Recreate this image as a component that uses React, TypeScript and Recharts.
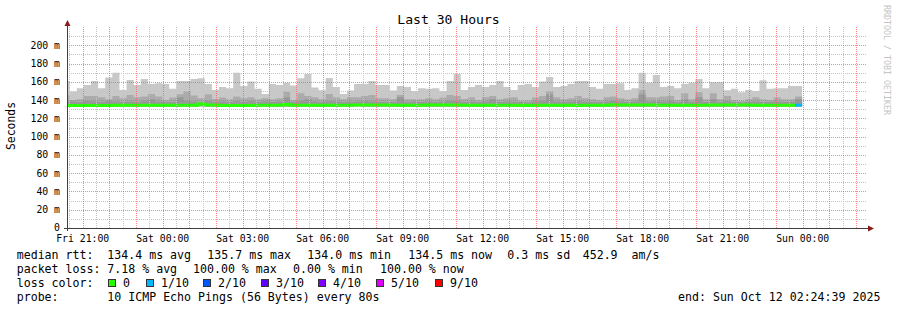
import { ComposedChart, Area, Line, XAxis, YAxis } from "recharts";

// one value per 16-minute RRD row, oldest first (row 0 is the clipped sliver at the left edge)
const maxRtt = [
  161.0, 149.3, 153.0, 156.6, 161.0, 153.0, 164.6, 169.8, 151.0, 162.0,
  156.6, 163.0, 157.7, 158.4, 157.7, 152.3, 161.0, 161.0, 163.0, 164.0,
  157.7, 151.0, 154.4, 153.0, 169.8, 155.5, 160.3, 152.3, 146.8, 157.7,
  156.6, 159.1, 155.9, 163.9, 168.6, 153.7, 150.8, 164.3, 154.4, 146.8,
  150.4, 157.7, 157.7, 161.0, 156.6, 156.6, 150.4, 155.5, 154.4, 150.0,
  153.0, 152.3, 153.0, 150.0, 161.0, 168.6, 151.0, 154.4, 156.6, 154.4,
  156.6, 161.0, 154.4, 151.0, 156.6, 157.7, 154.4, 160.3, 165.4, 154.4,
  155.5, 157.7, 161.0, 161.0, 154.4, 152.3, 157.7, 157.7, 158.4, 151.0,
  153.0, 169.8, 159.1, 167.5, 154.4, 155.5, 153.0, 157.7, 159.1, 163.0,
  153.0, 159.5, 159.5, 150.8, 152.3, 148.6, 151.0, 150.0, 161.7, 152.3,
  153.0, 153.0, 155.5, 155.5,
];

const midRtt = [
  145.7, 140.0, 140.8, 144.6, 144.6, 143.0, 140.8, 144.6, 142.0, 145.7,
  143.0, 143.8, 146.8, 143.8, 140.0, 142.7, 146.4, 150.0, 145.0, 142.0,
  146.4, 141.3, 142.7, 140.8, 143.8, 142.0, 143.0, 140.8, 142.0, 140.8,
  142.0, 149.3, 140.0, 147.5, 144.6, 143.0, 140.8, 146.8, 143.0, 140.8,
  143.0, 143.0, 144.6, 145.7, 142.0, 142.0, 140.8, 145.7, 140.8, 140.8,
  140.8, 142.0, 141.0, 142.7, 145.7, 144.6, 141.3, 143.0, 140.0, 143.0,
  144.6, 140.8, 142.0, 143.0, 139.5, 139.5, 142.7, 144.6, 150.0, 143.0,
  140.8, 142.0, 144.6, 142.0, 140.8, 140.0, 143.0, 143.8, 142.0, 140.8,
  142.0, 151.0, 143.0, 143.0, 143.8, 144.6, 140.0, 147.5, 140.8, 148.6,
  140.8, 147.5, 140.8, 144.6, 140.0, 139.0, 140.8, 143.0, 140.8, 140.0,
  142.7, 140.8, 140.8, 143.8,
];

const innerRtt = [
  139.0, 138.5, 138.0, 139.0, 138.5, 138.0, 139.0, 138.5, 138.0, 138.5,
  138.0, 139.0, 141.0, 138.5, 138.0, 138.0, 143.0, 139.0, 138.5, 138.0,
  139.0, 138.0, 138.5, 138.0, 139.0, 138.0, 139.0, 138.0, 138.5, 138.0,
  138.5, 143.0, 138.0, 139.0, 141.0, 138.5, 138.0, 139.0, 138.5, 138.0,
  138.0, 138.5, 139.0, 138.5, 138.0, 138.0, 138.0, 143.0, 138.0, 138.5,
  138.0, 138.5, 138.0, 138.5, 139.0, 139.0, 138.0, 138.5, 138.0, 138.5,
  141.0, 138.0, 138.5, 138.0, 138.0, 137.5, 138.5, 139.0, 146.0, 138.5,
  138.0, 138.5, 139.0, 138.0, 138.0, 138.0, 138.5, 139.0, 138.5, 138.0,
  138.5, 146.0, 138.5, 139.0, 138.5, 139.0, 138.0, 141.0, 138.0, 143.0,
  138.0, 141.0, 138.0, 139.0, 138.0, 137.5, 138.0, 138.5, 138.0, 138.0,
  138.5, 138.0, 138.0, 141.0,
];

const medianRtt = [
  134.2, 134.2, 134.2, 134.2, 134.2, 134.2, 134.0, 134.3, 134.3, 134.3,
  134.3, 134.3, 134.3, 134.3, 134.3, 134.3, 134.3, 134.3, 134.3, 135.7,
  134.5, 134.5, 134.0, 134.0, 134.0, 134.0, 134.0, 134.4, 134.4, 134.4,
  134.4, 135.2, 134.4, 134.4, 134.4, 134.4, 134.4, 134.4, 134.4, 134.4,
  134.4, 134.6, 134.6, 134.6, 134.6, 134.6, 134.3, 134.3, 134.3, 134.3,
  134.3, 134.5, 134.5, 134.5, 134.5, 134.5, 134.3, 134.3, 134.3, 134.3,
  134.3, 134.3, 134.3, 134.3, 134.3, 134.0, 134.4, 134.4, 134.4, 134.4,
  134.4, 134.4, 134.0, 134.3, 134.3, 134.3, 134.3, 135.0, 134.5, 134.5,
  134.5, 134.5, 134.5, 134.5, 134.3, 134.3, 134.3, 134.3, 134.3, 134.3,
  134.3, 134.6, 134.6, 134.6, 134.6, 134.6, 134.6, 134.3, 134.3, 134.3,
  134.3, 134.3, 134.3, 134.5,
];

const minRtt = [
  133.0, 133.0, 132.9, 133.0, 133.1, 133.0, 132.6, 133.0, 133.0, 132.9,
  133.0, 133.0, 132.9, 133.0, 133.0, 133.1, 132.8, 133.0, 133.0, 133.2,
  133.0, 133.0, 132.8, 132.9, 133.0, 132.9, 132.5, 133.0, 133.0, 133.0,
  133.1, 133.0, 133.0, 132.9, 133.0, 133.0, 133.1, 133.0, 133.0, 133.0,
  133.0, 133.2, 133.0, 133.1, 133.0, 133.0, 133.0, 132.9, 133.0, 133.0,
  133.0, 133.0, 133.1, 133.0, 133.0, 133.0, 133.0, 133.0, 133.0, 132.9,
  133.0, 133.0, 133.0, 133.0, 133.0, 132.8, 133.0, 133.0, 132.9, 133.0,
  133.0, 133.0, 132.6, 133.0, 133.0, 133.0, 133.0, 133.1, 133.0, 133.0,
  133.0, 132.9, 133.0, 133.0, 133.0, 133.0, 133.0, 133.0, 133.0, 132.9,
  133.0, 133.0, 133.0, 133.1, 133.0, 133.0, 133.0, 133.0, 133.0, 133.0,
  133.0, 133.0, 133.0, 133.0,
];

// lost pings out of 10 per row
const lossTenths = [
  0, 0, 0, 0, 0, 0, 0, 0, 0, 0, 0, 0, 0, 0, 0, 0, 0, 0, 0, 0,
  0, 0, 0, 0, 0, 0, 0, 0, 0, 0, 0, 0, 0, 0, 0, 0, 0, 0, 0, 0,
  0, 0, 0, 0, 0, 0, 0, 0, 0, 0, 0, 0, 0, 0, 0, 0, 0, 0, 0, 0,
  0, 0, 0, 0, 0, 0, 0, 0, 0, 0, 0, 0, 0, 0, 0, 0, 0, 0, 0, 0,
  0, 0, 0, 0, 0, 0, 0, 0, 0, 0, 0, 0, 0, 0, 0, 0, 0, 0, 0, 0,
  0, 0, 0, 1,
];

const xTickLabels = [
  "Fri 21:00", "Sat 00:00", "Sat 03:00", "Sat 06:00", "Sat 09:00",
  "Sat 12:00", "Sat 15:00", "Sat 18:00", "Sat 21:00", "Sun 00:00",
];
const yTicks = [0, 20, 40, 60, 80, 100, 120, 140, 160, 180, 200];

const lossLegend = [
  { label: "0", color: "#26ff00" },
  { label: "1/10", color: "#00b8ff" },
  { label: "2/10", color: "#0059ff" },
  { label: "3/10", color: "#5e00ff" },
  { label: "4/10", color: "#7e00ff" },
  { label: "5/10", color: "#dd00ff" },
  { label: "9/10", color: "#ff0000" },
];

const W = 897;
const H = 310;
const HOURS = 30; // graph covers Fri 20:24:39 .. Sun 02:24:39
const Y_MAX = 220;
const FIRST_ROW_H = 0.1; // second row starts here, the first is clipped
const ROW_H = 16 / 60;
const FIRST_TICK_H = 0.589; // Fri 21:00
const mono = "'DejaVu Sans Mono', monospace";

// plot box (same numbers feed the chart margins / axis sizes below)
const PLOT_L = 67;
const PLOT_R = 867;
const PLOT_T = 27;
const PLOT_B = 228;

const rowStart = (i: number) => (i === 0 ? 0 : FIRST_ROW_H + (i - 1) * ROW_H);
const n = maxRtt.length;

const rows = Array.from({ length: n + 1 }, (_, k) => {
  const i = Math.min(k, n - 1);
  const lossHere = k < n ? lossTenths[k] : -1;
  const lossPrev = k > 0 ? lossTenths[k - 1] : -1;
  return {
    t: rowStart(k),
    light: [minRtt[i], maxRtt[i]],
    mid: [minRtt[i], midRtt[i]],
    inner: [minRtt[i], innerRtt[i]],
    green: lossHere === 0 || lossPrev === 0 ? medianRtt[i] : null,
    blue: lossHere === 1 || lossPrev === 1 ? medianRtt[i] : null,
  };
});

const xTicks = xTickLabels.map((_, i) => FIRST_TICK_H + i * 3);
const hourLines = Array.from({ length: 31 }, (_, k) => FIRST_TICK_H + k).filter((h) => h > 0 && h < HOURS);
const halfHourLines = Array.from({ length: 31 }, (_, k) => FIRST_TICK_H - 0.5 + k).filter((h) => h > 0 && h < HOURS);
const minorY = [10, 30, 50, 70, 90, 110, 130, 150, 170, 190, 210];
const majorY = yTicks.filter((v) => v > 0);

const GRID = "#c4c4c4";
const MGRID = "#ff5a5a";

const px = (h: number) => Math.round(PLOT_L + (h / HOURS) * (PLOT_R - PLOT_L)) + 0.5;
const py = (v: number) => Math.round(PLOT_B - (v / Y_MAX) * (PLOT_B - PLOT_T)) + 0.5;

const xLabel = (v: number) => {
  const idx = xTicks.findIndex((t) => Math.abs(t - v) < 0.01);
  return idx >= 0 ? xTickLabels[idx] : "";
};

const Txt = ({ x, y, children, size = 11.6 }: { x: number; y: number; children: any; size?: number }) => (
  <div
    style={{
      position: "absolute",
      left: x,
      top: y - 7,
      height: 14,
      lineHeight: "14px",
      fontFamily: mono,
      fontSize: size,
      whiteSpace: "pre",
      color: "#000",
    }}
  >
    {children}
  </div>
);

export default function App() {
  return (
    <div style={{ position: "absolute", left: 0, top: 0, width: W, height: H, background: "#fff", overflow: "hidden" }}>
      <div
        style={{
          position: "absolute",
          left: 0,
          width: W,
          top: 13,
          textAlign: "center",
          fontFamily: mono,
          fontSize: 13.1,
          lineHeight: "14px",
        }}
      >
        Last 30 Hours
      </div>
      <div
        style={{
          position: "absolute",
          left: 11 - 40,
          top: 126 - 7,
          width: 80,
          height: 14,
          lineHeight: "14px",
          textAlign: "center",
          transform: "rotate(-90deg)",
          fontFamily: mono,
          fontSize: 11.4,
        }}
      >
        Seconds
      </div>
      <div
        style={{
          position: "absolute",
          left: 882,
          top: 5,
          writingMode: "vertical-rl",
          fontFamily: mono,
          fontSize: 8.3,
          color: "#c4c4c4",
          lineHeight: "10px",
        }}
      >
        RRDTOOL / TOBI OETIKER
      </div>

      <div style={{ position: "absolute", left: 0, top: 0 }}>
        <ComposedChart
          width={W}
          height={H}
          data={rows}
          margin={{ top: PLOT_T, right: W - PLOT_R, bottom: 0, left: 0 }}
        >
          <XAxis
            dataKey="t"
            type="number"
            domain={[0, HOURS]}
            allowDataOverflow
            ticks={xTicks}
            interval={0}
            tickFormatter={xLabel}
            axisLine={false}
            tickLine={false}
            tickSize={0}
            tickMargin={7}
            height={H - PLOT_B}
            tick={{ fontSize: 9.8, fill: "#000", fontFamily: mono }}
          />
          <YAxis
            type="number"
            domain={[0, Y_MAX]}
            allowDataOverflow
            ticks={yTicks}
            interval={0}
            tickFormatter={(v: number) => (v === 0 ? "0" : `${v} m`)}
            axisLine={false}
            tickLine={false}
            tickSize={0}
            tickMargin={7}
            width={PLOT_L}
            tick={{ fontSize: 9.8, fill: "#000", fontFamily: mono }}
          />
          <Area dataKey="light" type="stepAfter" stroke="none" fill="#c8c8c8" fillOpacity={1} isAnimationActive={false} />
          <Area dataKey="mid" type="stepAfter" stroke="none" fill="#ababab" fillOpacity={1} isAnimationActive={false} />
          <Area dataKey="inner" type="stepAfter" stroke="none" fill="#989898" fillOpacity={1} isAnimationActive={false} />
          <Line dataKey="green" type="stepAfter" stroke="#26ff00" strokeWidth={3} dot={false} activeDot={false} isAnimationActive={false} />
          <Line dataKey="blue" type="stepAfter" stroke="#00b8ff" strokeWidth={3} dot={false} activeDot={false} isAnimationActive={false} />
        </ComposedChart>
      </div>

      {/* rrdtool paints its grid over the graph, so it goes on top here too */}
      <svg width={W} height={H} style={{ position: "absolute", left: 0, top: 0, pointerEvents: "none" }}>
        <g strokeWidth={1} shapeRendering="crispEdges">
          {minorY.map((v) => (
            <line key={`gy${v}`} x1={PLOT_L} x2={PLOT_R} y1={py(v)} y2={py(v)} stroke={GRID} strokeDasharray="1 1" />
          ))}
          {halfHourLines.map((h) => (
            <line key={`gx${h}`} x1={px(h)} x2={px(h)} y1={PLOT_T} y2={PLOT_B} stroke={GRID} strokeDasharray="1 1" />
          ))}
          {majorY.map((v) => (
            <line key={`my${v}`} x1={PLOT_L} x2={PLOT_R} y1={py(v)} y2={py(v)} stroke={MGRID} strokeOpacity={0.75} strokeDasharray="1 1" />
          ))}
          {hourLines.map((h) => (
            <line key={`mx${h}`} x1={px(h)} x2={px(h)} y1={PLOT_T} y2={PLOT_B} stroke={MGRID} strokeOpacity={0.75} strokeDasharray="1 1" />
          ))}
        </g>
        <line x1={67.5} y1={26} x2={67.5} y2={231} stroke="#404040" strokeWidth={1} />
        <line x1={64} y1={228.5} x2={868} y2={228.5} stroke="#404040" strokeWidth={1} />
        <polygon points="64.5,26 70.5,26 67.5,20" fill="#8b1a1a" />
        <polygon points="868,225.5 868,231.5 874,228.5" fill="#8b1a1a" />
      </svg>

      <Txt x={16.7} y={255}>median rtt:</Txt>
      <Txt x={107.3} y={255}>134.4 ms avg</Txt>
      <Txt x={207.3} y={255}>135.7 ms max</Txt>
      <Txt x={307.3} y={255}>134.0 ms min</Txt>
      <Txt x={408.3} y={255}>134.5 ms now</Txt>
      <Txt x={507.3} y={255}>0.3 ms sd</Txt>
      <Txt x={582.7} y={255}>452.9</Txt>
      <Txt x={631.5} y={255}>am/s</Txt>

      <Txt x={16.7} y={268.5}>packet loss:</Txt>
      <Txt x={107.3} y={268.5}>7.18 % avg</Txt>
      <Txt x={193} y={268.5}>100.00 % max</Txt>
      <Txt x={293} y={268.5}>0.00 % min</Txt>
      <Txt x={380} y={268.5}>100.00 % now</Txt>

      <Txt x={16.7} y={282.7}>loss color:</Txt>
      {lossLegend.map((e, i) => {
        const bx = [108, 146, 203, 261, 318, 376, 435][i];
        return (
          <div key={e.label}>
            <div
              style={{
                position: "absolute",
                left: bx,
                top: 279,
                width: 6,
                height: 6,
                background: e.color,
                border: "1px solid #333",
              }}
            />
            <Txt x={bx + 15} y={282.7}>{e.label}</Txt>
          </div>
        );
      })}

      <Txt x={16.7} y={296.7}>probe:</Txt>
      <Txt x={107.3} y={296.7}>10 ICMP Echo Pings (56 Bytes) every 80s</Txt>
      <Txt x={678} y={296.7}>end: Sun Oct 12 02:24:39 2025</Txt>
    </div>
  );
}
